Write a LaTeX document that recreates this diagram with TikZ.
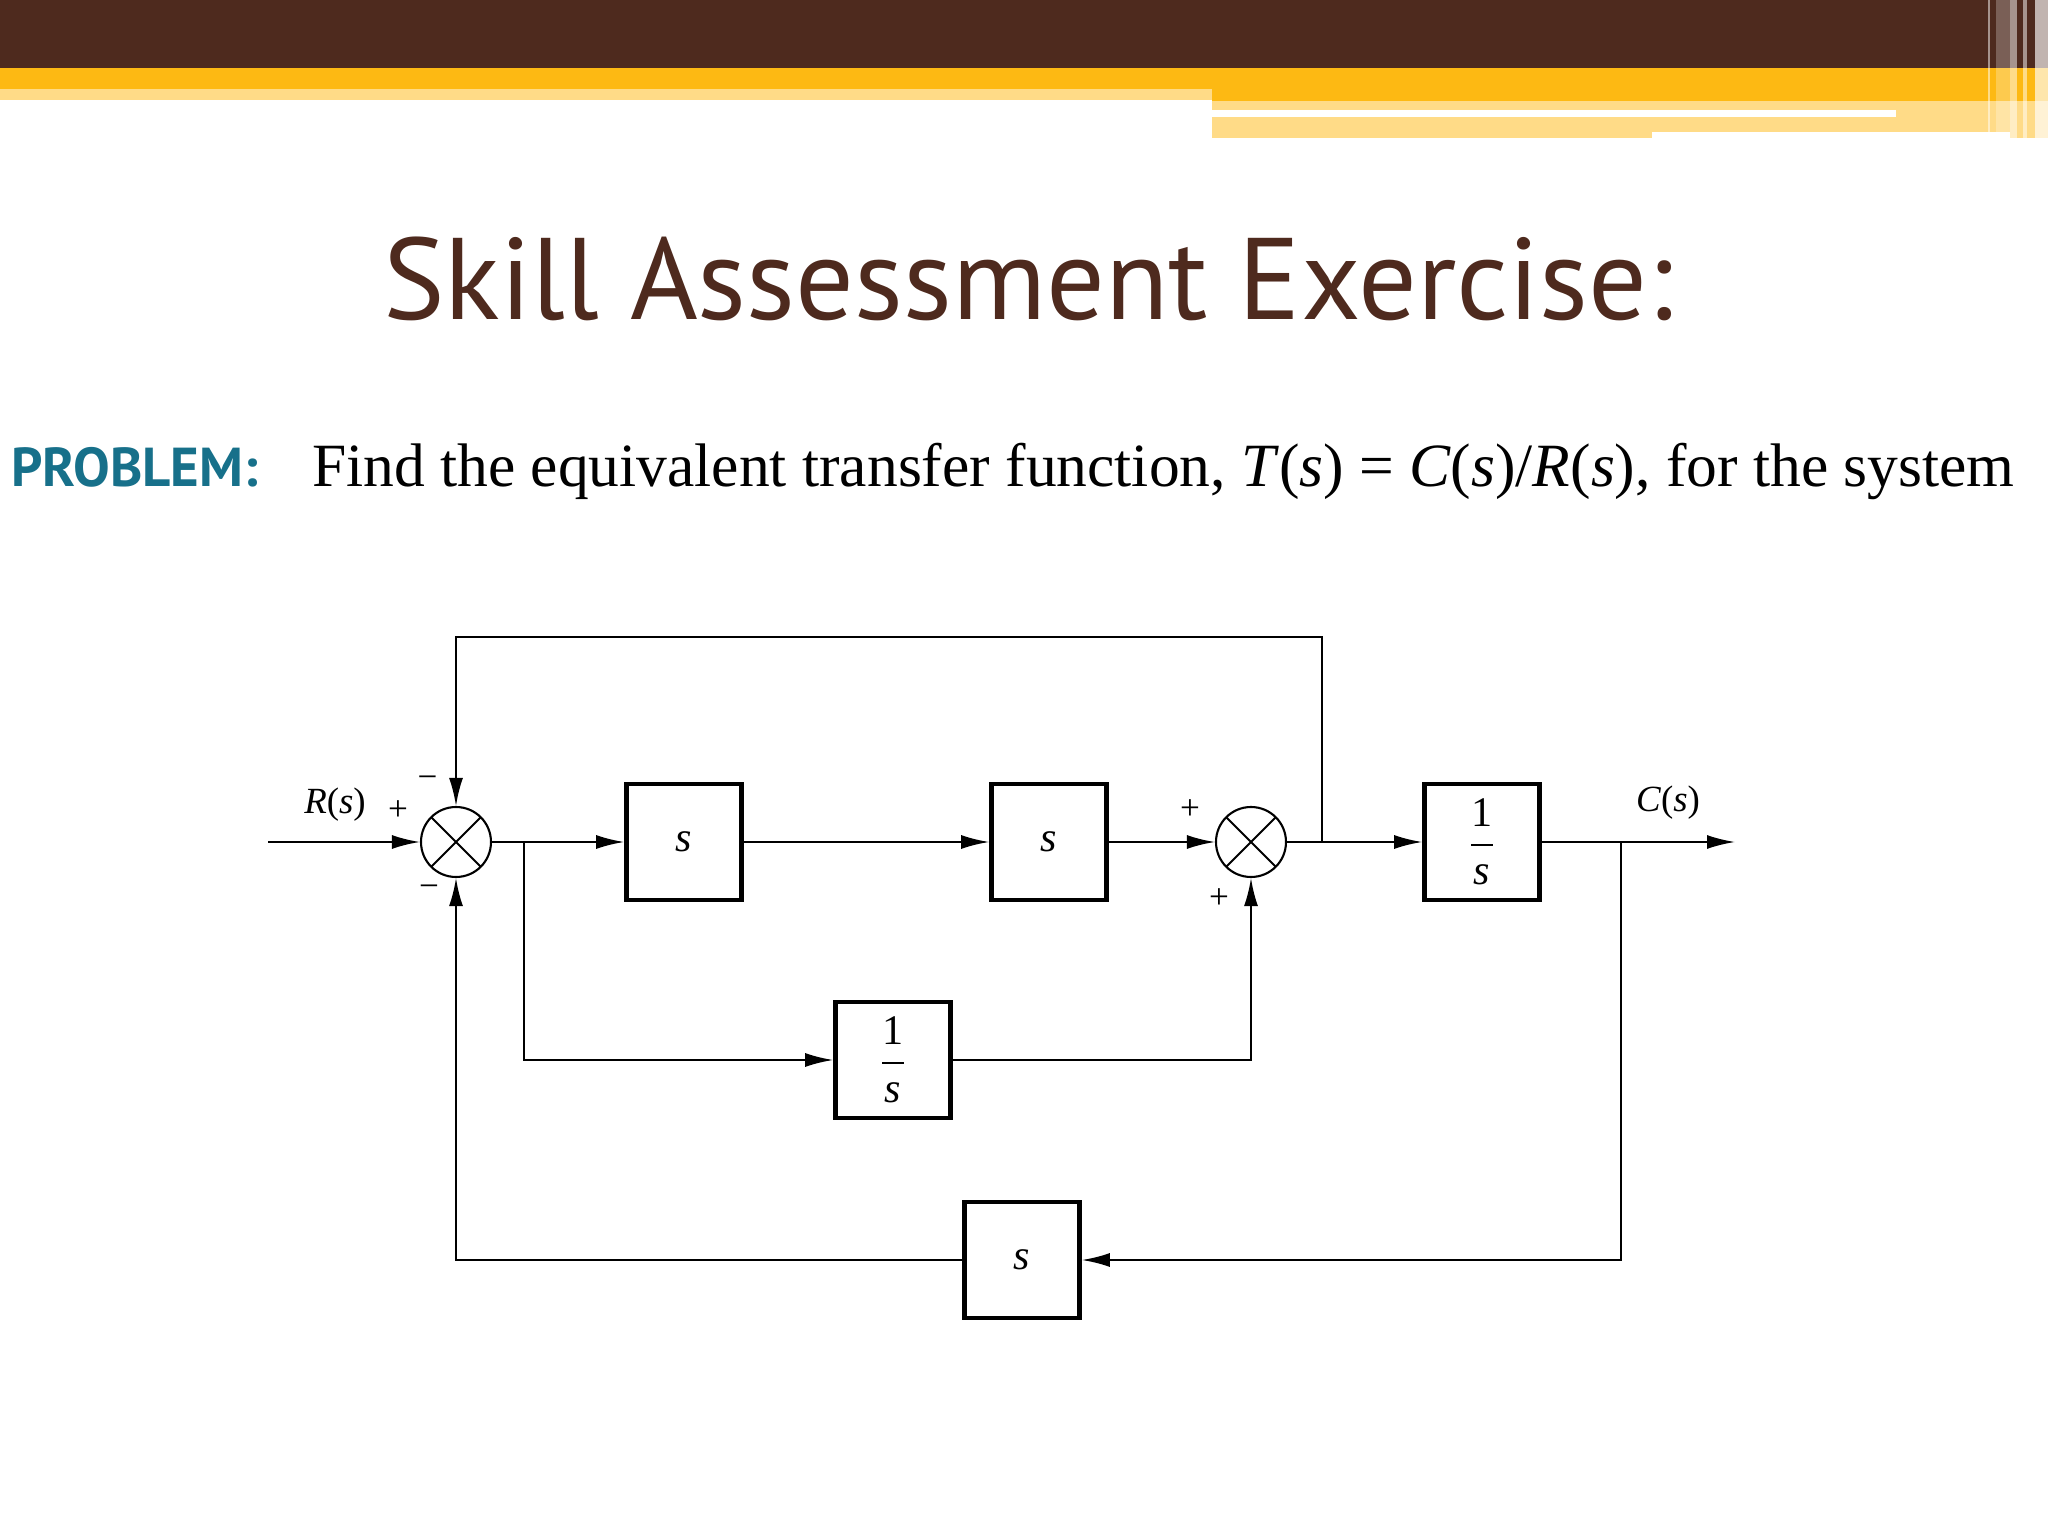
\documentclass[tikz,border=0pt]{standalone}
\usepackage{fontspec}
\setmainfont{Liberation Serif}
\newfontfamily\headfont{PT Sans}
\usepackage{amsmath}
\usetikzlibrary{positioning, arrows.meta}

\definecolor{brownbar}{HTML}{4E2A1E}
\definecolor{orangebar}{HTML}{FDB913}
\definecolor{paleorange}{HTML}{FFDB87}
\definecolor{probteal}{HTML}{17708A}
\newcommand{\invs}{$\dfrac{\textup{1}}{\textit{s}}$}

\begin{document}
\begin{tikzpicture}[>={Latex[length=2.8mm,width=1.4mm]},line width=0.6pt,node distance=2.2cm,on grid,
   block/.style={draw,line width=1.3pt,minimum width=1.15cm,minimum height=1.16cm,inner sep=0pt,font=\fontsize{12}{14}\selectfont\itshape},
   sum/.style={draw,circle,minimum size=0.70cm,inner sep=0pt,
      path picture={\draw ([shift={(45:0.5)}]path picture bounding box.center) -- ([shift={(225:0.5)}]path picture bounding box.center)
                          ([shift={(135:0.5)}]path picture bounding box.center) -- ([shift={(-45:0.5)}]path picture bounding box.center);}},
   sign/.style={inner sep=0pt,font=\fontsize{10}{11}\selectfont},
   lbl/.style={inner sep=0pt,font=\fontsize{10.5}{12}\selectfont}]
   \useasboundingbox (0,0) rectangle (20.48,-15.36);
   \fill[white] (0,0) rectangle (20.48,-15.36);

   \fill[brownbar] (0,0) rectangle (20.48,-0.68);
   \fill[orangebar] (0,-0.68) rectangle (20.48,-0.89);
   \fill[orangebar] (12.12,-0.89) rectangle (20.48,-1.01);
   \fill[paleorange] (0,-0.89) rectangle (12.12,-1.00);
   \fill[paleorange] (12.12,-1.01) rectangle (20.10,-1.32);
   \fill[paleorange] (12.12,-1.32) rectangle (16.52,-1.38);
   \fill[paleorange] (20.10,-1.01) rectangle (20.48,-1.38);
   \fill[white] (12.12,-1.10) rectangle (18.96,-1.17);
   \fill[white,opacity=0.5] (19.88,0) rectangle (19.90,-1.38);
   \fill[white,opacity=0.25] (19.96,0) rectangle (20.10,-1.38);
   \fill[white,opacity=0.5] (20.10,0) rectangle (20.17,-1.38);
   \fill[white,opacity=0.5] (20.23,0) rectangle (20.27,-1.38);
   \fill[white,opacity=0.65] (20.35,0) rectangle (20.48,-1.38);

   \node[anchor=base,text=brownbar,font=\headfont\fontsize{33}{40}\selectfont] (title) at (10.28,-3.20) {Skill Assessment Exercise:};
   \node[anchor=base west,inner sep=0pt,text=probteal,font=\headfont\bfseries\fontsize{15.6}{18}\selectfont] (prob) at (0.10,-4.86) {PROBLEM:};
   \node[anchor=base west,inner sep=0pt,font=\fontsize{17.5}{20}\selectfont] (stmt) at (3.11,-4.86)
      {Find the equivalent transfer function, \textit{T}(\textit{s}) = \textit{C}(\textit{s})/\textit{R}(\textit{s}), for the system};

   \node[sum] (sumA) at (4.56,-8.42) {};
   \node[block] (bA) [right=2.28cm of sumA] {s};
   \node[block] (bB) [right=3.65cm of bA] {s};
   \node[sum] (sumB) [right=2.02cm of bB] {};
   \node[block] (bC) [right=2.31cm of sumB] {\invs};
   \node[block] (bD) at (8.93,-10.60) {\invs};
   \node[block] (bE) at (10.22,-12.60) {s};

   \coordinate (in) at (2.68,-8.42);
   \coordinate (out) at (17.35,-8.42);
   \coordinate (brA) at (5.24,-8.42);
   \coordinate (brB) at (13.22,-8.42);
   \coordinate (brC) at (16.21,-8.42);

   \node[lbl] (R) [above left=0.37cm and 1.21cm of sumA] {\textit{R}(\textit{s})};
   \node[sign] (plA) [above left=0.31cm and 0.58cm of sumA] {+};
   \node[sign] (mnA) [above left=0.60cm and 0.285cm of sumA] {−};
   \node[sign] (mnB) [below left=0.49cm and 0.27cm of sumA] {−};
   \node[sign] (plB) [above left=0.32cm and 0.61cm of sumB] {+};
   \node[sign] (plC) [below left=0.57cm and 0.32cm of sumB] {+};
   \node[lbl] (C) [above right=0.39cm and 1.86cm of bC] {\textit{C}(\textit{s})};

   \path[->]
   (in) edge (sumA)
   (sumA) edge (bA)
   (bA) edge (bB)
   (bB) edge (sumB)
   (sumB) edge (bC)
   (bC) edge (out);
   \draw[->] (brA) |- (bD);
   \draw[->] (bD) -| (sumB);
   \draw[->] (brB) -- ++(0,2.05) -| (sumA);
   \draw[->] (brC) |- (bE);
   \draw[->] (bE) -| (sumA);
\end{tikzpicture}
\end{document}
